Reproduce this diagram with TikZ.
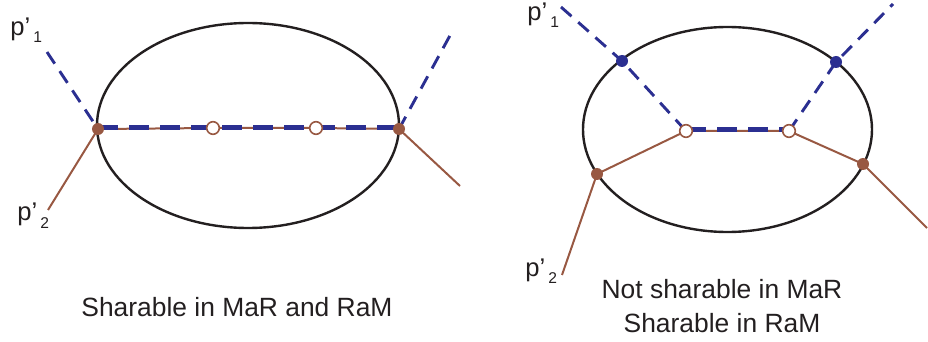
\documentclass[tikz,border=0pt]{standalone}
\usepackage{fontspec}
\setmainfont{Liberation Sans}
\usetikzlibrary{positioning,backgrounds}

\definecolor{pathblue}{RGB}{43,47,145}
\definecolor{pathbrown}{RGB}{152,88,66}
\definecolor{inkgray}{RGB}{35,31,32}

\newcommand{\plabel}[1]{p'\hspace{1.5pt}\raisebox{-3.5pt}{\fontsize{7.8}{8}\selectfont #1}}

\begin{document}
\begin{tikzpicture}[
  x=0.5pt, y=-0.5pt,
  region/.style={draw=inkgray, line width=1.2pt},
  blueline/.style={pathblue, line width=1.45pt, dash pattern=on 7pt off 4.5pt},
  blueshared/.style={pathblue, line width=2.4pt, dash pattern=on 10pt off 5.5pt},
  brownline/.style={pathbrown, line width=1pt},
  bluedot/.style={circle, fill=pathblue, inner sep=0pt, minimum size=6pt},
  browndot/.style={circle, fill=pathbrown, inner sep=0pt, minimum size=6pt},
  opendot/.style={circle, draw=pathbrown, fill=white, line width=0.8pt,
                  inner sep=0pt, minimum size=6.3pt},
  lbl/.style={font=\fontsize{12.8}{15}\selectfont, text=inkgray, inner sep=0pt},
  caption/.style={font=\fontsize{13.2}{17}\selectfont, text=inkgray, inner sep=0pt}
]
\useasboundingbox (0,0) rectangle (928,342);

%% Left picture: sharable in both
\coordinate (lc) at (248,125.5);
\node[browndot] (la) at (98,129) {};
\node[browndot] (lb) at (399,129) {};
\node[opendot]  (lu) at (213,128) {};
\node[opendot]  (lv) at (316,128) {};
\coordinate (lp1) at (47,52);
\coordinate (lq1) at (453,30);
\coordinate (lp2) at (48,210);
\coordinate (lq2) at (460,186);

\node[lbl, anchor=base west] (lpone) at (10,36)  {\plabel{1}};
\node[lbl, anchor=base west] (lptwo) at (17,221) {\plabel{2}};
\node[caption, anchor=base] (capboth) at (237,317) {Sharable in MaR and RaM};

%% Right picture: sharable in RaM only
\coordinate (rc) at (727.5,129.5);
\node[bluedot]  (rs) at (622,61) {};
\node[bluedot]  (rt) at (836,62) {};
\node[opendot]  (ru) at (686,131) {};
\node[opendot]  (rv) at (789,131) {};
\node[browndot] (rw) at (597,174) {};
\node[browndot] (rx) at (863,164) {};
\coordinate (rp1) at (561,7);
\coordinate (rq1) at (893,4);
\coordinate (rp2) at (562,275);
\coordinate (rq2) at (927,228);

\node[lbl, anchor=base west] (rpone) at (527,21)  {\plabel{1}};
\node[lbl, anchor=base west] (rptwo) at (525,277) {\plabel{2}};
\node[caption, anchor=base] (capmar) at (722,299) {Not sharable in MaR};
\node[caption, anchor=base] (capram) at (722,333) {Sharable in RaM};

%% Regions and paths
\begin{scope}[on background layer]
  \draw[region] (lc) ellipse [x radius=151, y radius=102.5];
  \draw[region] (rc) ellipse [x radius=144.5, y radius=102.5];

  \draw[brownline] (lp2) -- (la.center) -- (lu.center) -- (lv.center) -- (lb.center) -- (lq2);
  \draw[blueline] (lp1) -- (la.center);
  \draw[blueshared] ([yshift=0.6pt]la.center) -- ([yshift=0.6pt]lb.center);
  \draw[blueline] (lb.center) -- (lq1);

  \draw[brownline] (rp2) -- (rw.center) -- (ru.center) -- (rv.center) -- (rx.center) -- (rq2);
  \draw[blueline] (rp1) -- (rs.center) -- (ru.center);
  \draw[blueshared] ([yshift=0.6pt]ru.center) -- ([yshift=0.6pt]rv.center);
  \draw[blueline] (rv.center) -- (rt.center) -- (rq1);
\end{scope}

\end{tikzpicture}
\end{document}
